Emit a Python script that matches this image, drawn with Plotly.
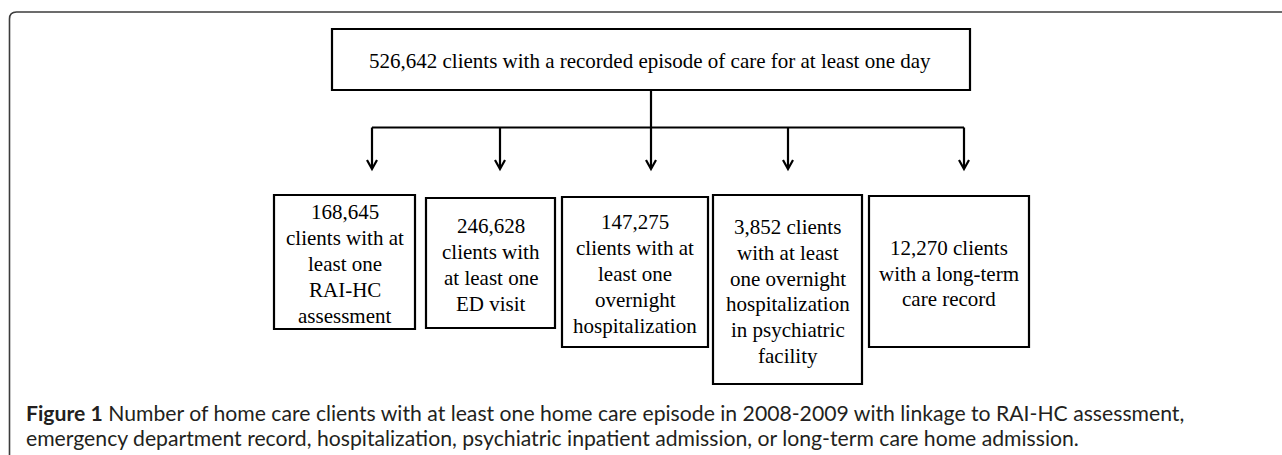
import plotly.graph_objects as go

# ---------------- data ----------------
top_count = 526642
top_label = "{n} clients with a recorded episode of care for at least one day"
counts = [168645, 246628, 147275, 3852, 12270]
box_lines = [
    ["{n}", "clients with at", "least one", "RAI-HC", "assessment"],
    ["{n}", "clients with", "at least one", "ED visit"],
    ["{n}", "clients with at", "least one", "overnight", "hospitalization"],
    ["{n} clients", "with at least", "one overnight", "hospitalization", "in psychiatric", "facility"],
    ["{n} clients", "with a long-term", "care record"],
]
caption_bold = "Figure 1"
caption_lines = [
    " Number of home care clients with at least one home care episode in 2008-2009 with linkage to RAI-HC assessment,",
    "emergency department record, hospitalization, psychiatric inpatient admission, or long-term care home admission.",
]

# ---------------- layout geometry (pixels) ----------------
W, H = 1282, 455
top_box = (332, 29, 970, 90)
stem_x = 651
bus_y = 127.5
tip_y = 169
box_x0 = [274, 426, 562, 713, 869]
box_x1 = [415, 555, 708, 862, 1029]
box_y0 = [195, 198, 197, 195, 196]
box_y1 = [329, 328, 347, 384, 347]
arrow_x = [372, 500, 651, 788, 964]
line_gap = 25.8

serif = "Liberation Serif"
sans = "Lato"
ink = "#000000"
cap_ink = "#231f20"

fig = go.Figure()
shapes = []
annotations = []

# outer frame (top + left with rounded corner)
shapes.append(dict(type="path", xref="x", yref="y",
                   path=f"M 9.5,{H} L 9.5,19 Q 9.5,12 16.5,12 L {W},12",
                   line=dict(color="#3c3c3c", width=1.6)))

# top box
x0, y0, x1, y1 = top_box
shapes.append(dict(type="rect", xref="x", yref="y", x0=x0, y0=y0, x1=x1, y1=y1,
                   line=dict(color=ink, width=2.2), fillcolor="white"))
annotations.append(dict(x=(x0 + x1) / 2 - 1, y=(y0 + y1) / 2 + 1, xref="x", yref="y",
                        text=top_label.format(n=f"{top_count:,}"), showarrow=False,
                        xanchor="center", yanchor="middle",
                        font=dict(family=serif, size=21, color=ink)))

# stem and bus
shapes.append(dict(type="line", xref="x", yref="y", x0=stem_x, y0=y1, x1=stem_x, y1=bus_y,
                   line=dict(color=ink, width=2.2)))
shapes.append(dict(type="line", xref="x", yref="y", x0=min(arrow_x), y0=bus_y,
                   x1=max(arrow_x), y1=bus_y, line=dict(color=ink, width=2.2)))

# arrows
for ax in arrow_x:
    shapes.append(dict(type="line", xref="x", yref="y", x0=ax, y0=bus_y, x1=ax, y1=tip_y - 1,
                       line=dict(color=ink, width=2.2)))
    shapes.append(dict(type="path", xref="x", yref="y",
                       path=f"M {ax-5},{tip_y-9} L {ax},{tip_y} L {ax+5},{tip_y-9}",
                       line=dict(color=ink, width=2.2)))

# lower boxes
for i, n in enumerate(counts):
    bx0, bx1, by0, by1 = box_x0[i], box_x1[i], box_y0[i], box_y1[i]
    shapes.append(dict(type="rect", xref="x", yref="y", x0=bx0, y0=by0, x1=bx1, y1=by1,
                       line=dict(color=ink, width=2.2), fillcolor="white"))
    lines = box_lines[i]
    cy = (by0 + by1) / 2 + 2
    k = len(lines)
    for j, t in enumerate(lines):
        annotations.append(dict(x=(bx0 + bx1) / 2, y=cy + (j - (k - 1) / 2) * line_gap,
                                xref="x", yref="y", text=t.format(n=f"{n:,}"),
                                showarrow=False, xanchor="center", yanchor="middle",
                                font=dict(family=serif, size=21, color=ink)))

# caption
cap_y = [413, 438]
annotations.append(dict(x=24, y=cap_y[0], xref="x", yref="y",
                        text=f"<b>{caption_bold}</b>{caption_lines[0]}", showarrow=False,
                        xanchor="left", yanchor="middle",
                        font=dict(family=sans, size=21.2, color=cap_ink)))
annotations.append(dict(x=24, y=cap_y[1], xref="x", yref="y",
                        text=caption_lines[1], showarrow=False,
                        xanchor="left", yanchor="middle",
                        font=dict(family=sans, size=21.2, color=cap_ink)))

fig.update_layout(
    width=W, height=H, margin=dict(l=0, r=0, t=0, b=0),
    paper_bgcolor="white", plot_bgcolor="white",
    xaxis=dict(range=[0, W], visible=False, fixedrange=True),
    yaxis=dict(range=[H, 0], visible=False, fixedrange=True),
    shapes=shapes, annotations=annotations, showlegend=False,
)

fig.write_html("out.html", config={"displayModeBar": False, "staticPlot": True},
               post_script="document.body.style.margin='0';document.body.style.overflow='hidden';")
